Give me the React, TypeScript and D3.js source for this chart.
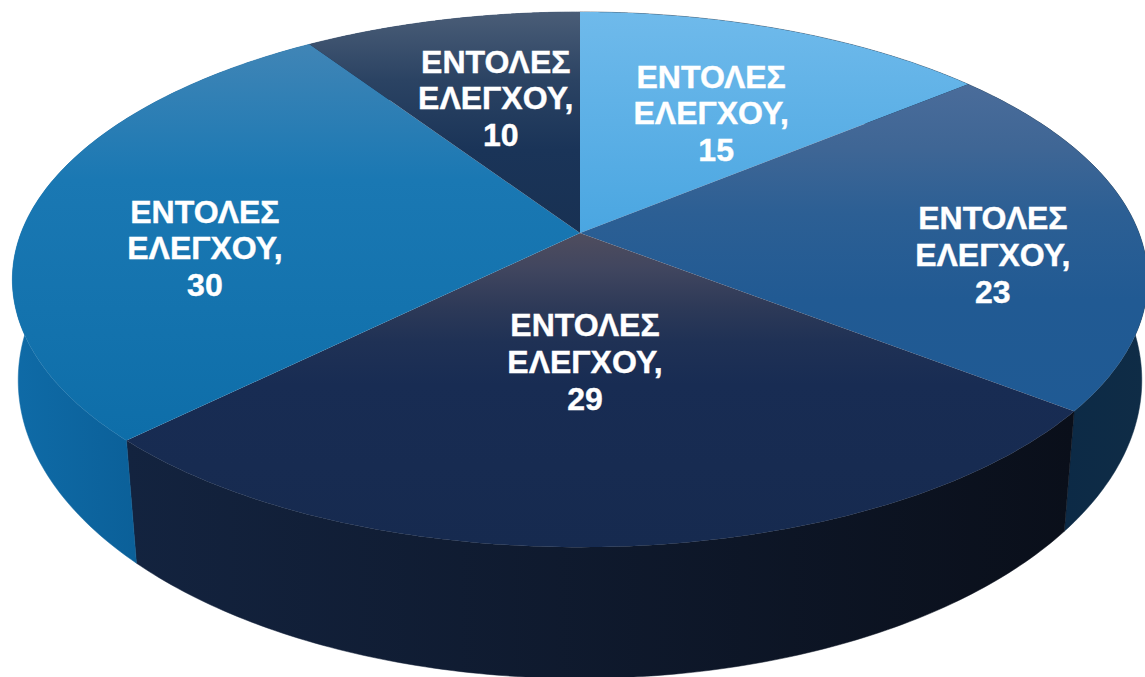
import React from "react";
import * as d3 from "d3";

const sliceNames = ["ΕΝΤΟΛΕΣ ΕΛΕΓΧΟΥ", "ΕΝΤΟΛΕΣ ΕΛΕΓΧΟΥ", "ΕΝΤΟΛΕΣ ΕΛΕΓΧΟΥ", "ΕΝΤΟΛΕΣ ΕΛΕΓΧΟΥ", "ΕΝΤΟΛΕΣ ΕΛΕΓΧΟΥ"];
const sliceValues = [15, 23, 29, 30, 10];

const W = 1145;
const H = 677;
const CX = 580;
const TOP = { y0: 233, a: 259.5, b: 559, k: 0.174 };
const BOTTOM = { y0: 334, a: 291, b: 555, k: 0.155 };

const topStops: [number, string][][] = [
  [[12, "#6fbaeb"], [233, "#4aa6e1"]],
  [[85, "#4a6c9a"], [147, "#3f6695"], [213, "#2c5f94"], [300, "#215a93"], [410, "#1f5a94"]],
  [[233, "#4f4d5e"], [268, "#41465f"], [305, "#2e3a58"], [342, "#1f3155"], [385, "#182c53"], [547, "#162a4f"]],
  [[45, "#4085b6"], [180, "#1a78b3"], [437, "#0e6ea9"]],
  [[12, "#4a5d77"], [80, "#2b4363"], [150, "#1a3458"], [233, "#183153"]],
];
const wallStops: [number, string, number, string][] = [
  [968, "#0e2a44", 1145, "#0e2a44"],
  [1065, "#0c2a46", 1145, "#0f2c46"],
  [127, "#13233f", 1075, "#0a0f1a"],
  [12, "#0f6ba7", 135, "#0b6099"],
  [310, "#183153", 580, "#183153"],
];
const labelOffsets: [number, number][] = [
  [0.5, 20],
  [78, 35],
  [-17, -34],
  [-45, 42],
  [4, 11.5],
];
const valueNudge = [5, 0, 0, 0, 5];

const project = (p: typeof TOP, angle: number, r = 1): [number, number] => {
  const u = r * Math.sin(angle);
  const v = -r * Math.cos(angle);
  const d = 1 - p.k * v;
  return [CX + (p.b * u) / d, p.y0 + (p.a * v) / d];
};

const rim = (p: typeof TOP, a0: number, a1: number) =>
  d3.range(0, 121).map((i) => project(p, a0 + ((a1 - a0) * i) / 120));

const line = d3.line();

export default function App() {
  const arcs = d3.pie<number>().sort(null)(sliceValues);
  const font = "'Liberation Sans', Arial, sans-serif";
  return (
    <svg
      width={W}
      height={H}
      viewBox={`0 0 ${W} ${H}`}
      style={{ position: "fixed", left: 0, top: 0, display: "block", background: "#fff" }}
    >
      <defs>
        {arcs.map((_, i) => (
          <linearGradient key={i} id={`top${i}`} gradientUnits="userSpaceOnUse" x1={0} x2={0}
            y1={topStops[i][0][0]} y2={topStops[i][topStops[i].length - 1][0]}>
            {topStops[i].map(([y, c], j) => {
              const y0 = topStops[i][0][0];
              const y1 = topStops[i][topStops[i].length - 1][0];
              return <stop key={j} offset={(y - y0) / (y1 - y0)} stopColor={c} />;
            })}
          </linearGradient>
        ))}
        {arcs.map((_, i) => (
          <linearGradient key={i} id={`wall${i}`} gradientUnits="userSpaceOnUse" y1={0} y2={0}
            x1={wallStops[i][0]} x2={wallStops[i][2]}>
            <stop offset={0} stopColor={wallStops[i][1]} />
            <stop offset={1} stopColor={wallStops[i][3]} />
          </linearGradient>
        ))}
      </defs>
      <g>
        {arcs.map((a, i) => {
          const pts = [...rim(TOP, a.startAngle, a.endAngle), ...rim(BOTTOM, a.startAngle, a.endAngle).reverse()];
          return <path key={i} d={line(pts) + "Z"} fill={`url(#wall${i})`} stroke={`url(#wall${i})`} strokeWidth={0.5} />;
        })}
      </g>
      <g>
        {arcs.map((a, i) => {
          const pts: [number, number][] = [[CX, TOP.y0], ...rim(TOP, a.startAngle, a.endAngle)];
          return <path key={i} d={line(pts) + "Z"} fill={`url(#top${i})`} />;
        })}
      </g>
      <g fill="#fff" stroke="#fff" strokeWidth={0.4} fontFamily={font} fontWeight={700} fontSize={32} textAnchor="middle">
        {arcs.map((a, i) => {
          const mid = (a.startAngle + a.endAngle) / 2;
          const [x, y] = project(TOP, mid, 0.6);
          const lx = x + labelOffsets[i][0];
          const ly = y + labelOffsets[i][1];
          const [w1, w2] = sliceNames[i].split(" ");
          return (
            <text key={i}>
              <tspan x={lx} y={ly - 36.5}>{w1}</tspan>
              <tspan x={lx} y={ly}>{w2 + ","}</tspan>
              <tspan x={lx + valueNudge[i]} y={ly + 37}>{sliceValues[i]}</tspan>
            </text>
          );
        })}
      </g>
    </svg>
  );
}
